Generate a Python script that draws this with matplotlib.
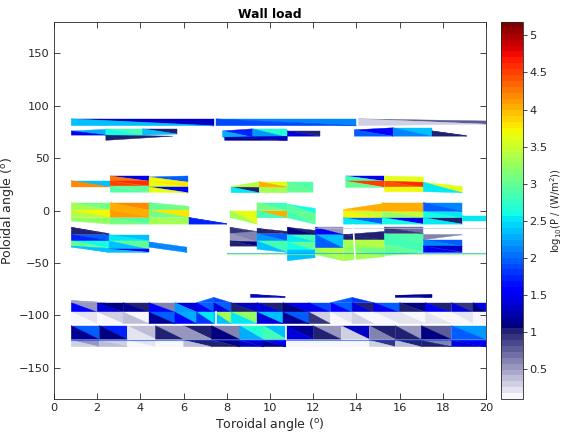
import numpy as np
import matplotlib.pyplot as plt
from matplotlib.collections import PolyCollection
from matplotlib.colors import ListedColormap, Normalize

# Cells: (phi0, phi1, theta_lo_left, theta_hi_left, theta_lo_right, theta_hi_right,
#         value upper triangle, value lower triangle)  -- values are log10(P)

top_cells = [
    (0.8, 7.4, 81, 87.5, 81, 87.5, 1.3, 2.4),
    (7.5, 14.0, 81, 87.5, 81, 87.5, 2.1, 1.9),
    (14.1, 20.0, 81, 87.5, 82.5, 85.5, 0.75, 0.3),
]

upper_cells = [
    (0.8, 2.4, 72, 76, 72, 77.5, 2.3, 1.5),
    (2.4, 4.1, 72, 78, 72, 78, 2.8, 2.6),
    (4.1, 5.7, 72, 78, 73, 78, 1.0, 2.4),
    (2.4, 5.5, 67, 72, 71, 72, None, 1.0),
    (7.8, 9.2, 70, 76, 70, 78, 1.7, 2.3),
    (9.2, 10.8, 70, 78, 70, 78, 2.7, 2.2),
    (7.9, 10.8, 67, 70, 67, 71, 1.3, 1.2),
    (10.8, 12.3, 71, 76, 71, 76, 1.0, 1.4),
    (13.9, 15.7, 71, 77, 71, 79, 1.6, 2.0),
    (15.7, 17.5, 71, 79, 71, 79, 2.4, 2.1),
    (17.5, 19.1, 71, 76, 71, 71.5, 1.0, 1.0),
]

band_c_cells = [
    (0.8, 2.6, 22.5, 28.5, 22.5, 28.5, 2.4, 4.2),
    (2.6, 4.4, 28, 33, 28, 33, 1.5, 4.3),
    (2.6, 4.4, 23, 28, 23, 28, 4.6, 4.5),
    (2.6, 4.4, 17.5, 23, 17.5, 23, 3.0, 2.9),
    (4.4, 6.2, 27, 32, 27, 33, 2.0, 3.7),
    (4.4, 6.2, 22.5, 27, 22.5, 27, 3.8, 3.6),
    (4.4, 6.2, 17.5, 22.5, 17, 22.5, 1.6, 3.6),
    (8.2, 9.5, 17, 22.5, 17, 22.5, 1.0, 2.5),
    (8.2, 9.5, 22.5, 23, 22.5, 27.5, 3.4, 3.4),
    (9.5, 10.8, 17, 22.5, 17, 22.5, 3.3, 3.3),
    (9.5, 10.8, 22.5, 27.5, 22.5, 27.5, 3.6, 4.0),
    (10.8, 12.0, 17.5, 27.5, 17.5, 27.5, 2.9, 3.0),
    (13.5, 15.3, 28, 33, 28, 33, 1.5, 2.8),
    (13.5, 15.3, 22, 28, 22, 28, 4.5, 3.0),
    (15.3, 17.1, 28, 33, 27, 32, 3.6, 3.6),
    (15.3, 17.1, 22, 28, 22, 27, 4.6, 4.4),
    (15.3, 17.1, 18, 22, 18, 22, 3.6, 3.7),
    (17.1, 18.9, 18, 27, 17, 23, 3.6, 2.5),
]

band_d_cells = [
    (0.8, 2.6, 0.3, 7.6, 0.3, 7.6, 3.1, 3.3),
    (2.6, 4.4, 0.3, 7.6, 0.3, 7.6, 4.2, 4.0),
    (4.4, 6.25, 0.3, 7.6, 0.3, 4.0, 3.1, 3.0),
    (0.8, 2.6, -6.7, 0.3, -6.7, 0.3, 3.7, 3.4),
    (2.6, 4.4, -6.7, 0.3, -6.7, 0.3, 4.0, 4.1),
    (4.4, 6.25, -6.7, 0.3, -6.7, 0.3, 3.8, 3.1),
    (0.8, 2.6, -10, -6.7, -13, -6.7, 3.2, 3.2),
    (2.6, 4.4, -13, -6.7, -13, -6.7, 2.9, 3.1),
    (4.4, 6.25, -13, -6.7, -13, -6.7, 3.3, 3.3),
    (6.25, 8.0, -13, -6.7, -13, -12.5, 1.7, 1.7),
    (8.15, 9.4, -6.7, 0, -13, 0, 3.6, 3.3),
    (9.4, 10.8, 0, 7.6, 0, 7.6, 2.8, 3.1),
    (9.4, 10.8, -7, 0, -7, 0, 4.0, 2.8),
    (10.8, 12.1, 0, 6, -3, 2, 2.6, 2.9),
    (10.8, 12.1, -7, 0, -13, -3, 3.0, 2.8),
    (13.4, 15.2, -1, 1, -1, 6.5, 4.0, 3.9),
    (13.4, 15.2, -6.7, -1, -6.7, -1, 3.5, 3.7),
    (13.4, 15.2, -13, -6.7, -13, -6.7, 2.0, 2.5),
    (15.2, 17.1, -1, 7.6, -1, 7.6, 4.0, 4.0),
    (15.2, 17.1, -6.7, -1, -6.7, -1, 3.5, 3.2),
    (15.2, 17.1, -13, -6.7, -13, -6.7, 1.5, 2.6),
    (17.1, 18.9, -1, 7.6, -1, 7.6, 2.1, 2.0),
    (17.1, 18.9, -6.7, -1, -6.7, -1, 2.5, 2.6),
    (17.1, 18.9, -13, -6.7, -13, -6.7, 1.0, 2.5),
    (18.9, 20.0, -10, -5, -10, -5, 2.5, 2.5),
]

band_e_cells = [
    (0.8, 2.55, -23, -16, -23, -22, 1.0, 1.0),
    (0.8, 2.55, -29, -23, -29, -23, 2.0, 1.7),
    (2.55, 4.4, -29, -23, -29, -23, 2.4, 2.5),
    (0.8, 2.55, -34, -29, -36, -29, 2.6, 3.0),
    (2.55, 4.4, -37, -29, -37, -29, 3.0, 2.4),
    (0.8, 2.55, -35, -34, -40, -36, 2.4, 2.4),
    (2.55, 4.4, -40, -37, -40, -37, 1.5, 2.4),
    (4.4, 6.15, -35, -30, -40, -35, 2.1, 2.1),
    (8.15, 9.4, -22, -16, -22, -20, 0.9, 0.9),
    (8.15, 9.4, -29, -22, -30, -20, 0.6, 0.5),
    (8.15, 9.4, -34, -29, -34, -30, 1.1, 1.0),
    (9.4, 10.8, -22, -17, -22, -20, 1.0, 1.0),
    (9.4, 10.8, -29, -22, -29, -22, 2.0, 2.2),
    (9.4, 10.8, -37, -29, -40, -29, 2.8, 2.4),
    (10.8, 12.1, -23, -16, -23, -19, 1.0, 1.1),
    (10.8, 12.1, -30, -23, -30, -23, 2.8, 2.5),
    (10.8, 12.1, -38, -30, -38, -30, 3.0, 2.6),
    (10.8, 12.1, -48, -38, -45, -38, 2.4, 2.4),
    (12.1, 13.4, -23, -16, -23, -16, 0.5, 1.5),
    (12.1, 13.4, -36, -23, -36, -23, 2.4, 2.0),
    (12.1, 13.4, -42, -36, -48, -36, 3.4, 3.2),
    (13.4, 15.3, -28, -23, -28, -20, 1.0, 1.0),
    (13.4, 15.3, -36, -28, -36, -28, 3.4, 3.3),
    (13.4, 15.3, -48, -36, -44, -36, 3.1, 3.3),
    (15.3, 17.1, -22, -16, -22, -16, 0.7, 0.9),
    (15.3, 17.1, -32, -22, -32, -22, 2.9, 2.8),
    (15.3, 17.1, -43, -32, -40, -32, 2.8, 3.0),
    (17.1, 18.9, -28, -23, -23, -23, 0.6, 0.6),
    (17.1, 18.9, -34, -28, -34, -28, 2.0, 2.1),
    (17.1, 18.9, -40, -34, -40, -34, 1.3, 1.5),
]

bottom_extra = [
    (6.6, 7.4, -88, -88, -88, -83, 2.0, None),
    (7.4, 8.2, -88, -83, -88, -88, None, 1.9),
    (12.8, 13.8, -88, -88, -88, -83, 2.0, None),
    (13.8, 14.8, -88, -83, -88, -88, None, 1.8),
    (9.1, 10.7, -83, -80, -83, -82, 1.3, 1.3),
    (15.8, 17.5, -83, -81, -83, -80, 1.2, 1.2),
    (0.8, 2.4, -88, -86, -88, -88, 0.5, 0.5),
]

# bottom rows: toroidal edges, theta range, values of upper / lower triangles
row1_x = [0.8, 2.0, 3.2, 4.4, 5.6, 6.6, 7.4, 8.2, 9.4, 10.6, 11.8, 12.8, 13.8, 14.8, 16.0, 17.2, 18.4, 19.4, 20.0]
row1_theta = (-97, -88)
row1_up = [0.5, 1.1, 1.0, 0.6, 1.4, 2.0, 2.0, 1.3, 1.0, 1.5, 1.9, 2.0, 1.0, 2.0, 1.1, 1.0, 0.9, 1.5]
row1_lo = [1.6, 1.4, 1.2, 1.6, 2.2, 1.5, 1.4, 1.0, 1.4, 1.1, 1.5, 1.6, 1.4, 1.5, 1.0, 1.5, 1.4, 1.1]

row2_x = [0.8, 2.0, 3.2, 4.4, 5.6, 6.6, 7.4, 8.2, 9.4, 10.6, 11.8, 12.8, 13.8, 14.8, 16.0, 17.2, 18.4, 19.4, 20.0]
row2_theta = (-108, -97)
row2_up = [0.2, 0.3, 0.1, 2.0, 2.3, 2.5, 3.3, 3.2, 2.4, 2.0, 0.3, 0.2, 0.1, 0.2, 0.1, 0.1, 0.2, 0.1]
row2_lo = [0.1, 0.1, 0.4, 1.2, 1.6, 1.8, 2.4, 2.5, 1.4, 1.2, 0.9, 0.1, 0.3, 0.1, 0.2, 0.2, 0.1, 0.1]

row3_x = [0.8, 2.1, 3.4, 4.7, 6.0, 7.3, 8.6, 9.7, 10.75, 12.0, 13.3, 14.6, 15.8, 17.0, 18.4, 20.0]
row3_theta = (-123, -110)
row3_up = [2.0, 1.7, 0.4, 0.5, 1.0, 0.6, 2.7, 2.4, 1.2, 0.5, 1.3, 1.0, 0.5, 0.8, 2.2]
row3_lo = [1.2, 1.1, 0.2, 1.0, 0.5, 1.1, 2.3, 2.8, 1.4, 1.0, 0.3, 0.6, 1.0, 1.1, 2.0]

row4_x = [0.8, 2.1, 3.4, 4.7, 6.0, 7.3, 8.6, 9.7, 10.75, 12.0, 13.3, 14.6, 15.8, 17.0, 18.4, 20.0]
row4_theta = (-130, -124)
row4_up = [0.5, 0.3, 0.2, 0.1, 1.0, 1.1, 1.4, 1.5, 0.1, 0.1, 0.1, 0.9, 1.0, 0.6, 1.5]
row4_lo = [0.3, 0.4, 0.1, 0.1, 0.4, 1.0, 1.3, 1.2, 0.1, 0.1, 0.1, 0.3, 0.4, 1.0, 1.4]

# thin strips seen edge-on: (phi0, phi1, theta, value)
thin_lines = [
    (8.0, 20.0, -40.5, 2.2),
    (8.0, 20.0, -42.0, 3.2),
    (12.0, 20.0, -17.0, 0.4),
    (0.8, 20.0, -123.5, 1.9),
]
# white seams between modules: (phi0, theta0, phi1, theta1)
seams = [
    (7.5, -97, 7.5, -108),
    (10.75, -110, 10.75, -123),
    (13.85, -14, 13.95, -50),
]

vmin, vmax = 0.1, 5.18

# colormap: white -> slate below 1, jet above
n_low, n_high = 12, 52
low = np.linspace([0.97, 0.97, 0.99], [0.13, 0.13, 0.45], n_low)
high = plt.get_cmap("jet")(np.linspace(0, 1, n_high))[:, :3]
cmap = ListedColormap(np.vstack([low, high]))
norm = Normalize(vmin, vmax)


def rows_to_cells(xs, theta, up, lo):
    return [(xs[i], xs[i + 1], theta[0], theta[1], theta[0], theta[1], up[i], lo[i])
            for i in range(len(up))]


cells = (top_cells + upper_cells + band_c_cells + band_d_cells + band_e_cells
         + rows_to_cells(row1_x, row1_theta, row1_up, row1_lo)
         + rows_to_cells(row2_x, row2_theta, row2_up, row2_lo)
         + rows_to_cells(row3_x, row3_theta, row3_up, row3_lo)
         + rows_to_cells(row4_x, row4_theta, row4_up, row4_lo)
         + bottom_extra)

tris, vals = [], []
for x0, x1, lo0, hi0, lo1, hi1, vu, vl in cells:
    tl, tr, br, bl = (x0, hi0), (x1, hi1), (x1, lo1), (x0, lo0)
    if vu is not None:
        tris.append([tl, tr, br])
        vals.append(vu)
    if vl is not None:
        tris.append([tl, br, bl])
        vals.append(vl)

fig = plt.figure(figsize=(5.62, 4.34), dpi=100)
ax = fig.add_axes([0.0961, 0.0806, 0.7687, 0.8687])
cax = fig.add_axes([0.8915, 0.0806, 0.0385, 0.8687])

pc = PolyCollection(tris, array=np.array(vals), cmap=cmap, norm=norm,
                    edgecolors="face", linewidths=0.3)
ax.add_collection(pc)

for x0, x1, th, v in thin_lines:
    ax.plot([x0, x1], [th, th], color=cmap(norm(v)), lw=0.8, alpha=0.6)
for x0, t0, x1, t1 in seams:
    ax.plot([x0, x1], [t0, t1], color="white", lw=1.2)

ax.set_xlim(0, 20)
ax.set_ylim(-180, 180)
ax.set_xticks(np.arange(0, 21, 2))
ax.set_yticks([-150, -100, -50, 0, 50, 100, 150])
ax.tick_params(direction="in", top=True, right=True, length=4, width=0.6,
               labelsize=8.2, colors="#262626", pad=3)
for s in ax.spines.values():
    s.set_color("#262626")
    s.set_linewidth(0.6)
ax.set_title("Wall load", fontsize=8.8, fontweight="bold", pad=3)
ax.set_xlabel("Toroidal angle ($^{\\mathrm{o}}$)", fontsize=9, color="#262626",
              labelpad=2)
ax.set_ylabel("Poloidal angle ($^{\\mathrm{o}}$)", fontsize=9, color="#262626",
              labelpad=2)

cb = fig.colorbar(pc, cax=cax)
cb.set_ticks([0.5, 1, 1.5, 2, 2.5, 3, 3.5, 4, 4.5, 5])
cb.set_ticklabels(["0.5", "1", "1.5", "2", "2.5", "3", "3.5", "4", "4.5", "5"])
cb.ax.tick_params(labelsize=8.2, colors="#262626", length=3, width=0.6, pad=2)
cb.outline.set_edgecolor("#262626")
cb.outline.set_linewidth(0.6)
cb.set_label("log$_{10}$(P / (W/m$^2$))", fontsize=7.2, color="#262626", labelpad=0)

fig.savefig("out.png", dpi=100)
